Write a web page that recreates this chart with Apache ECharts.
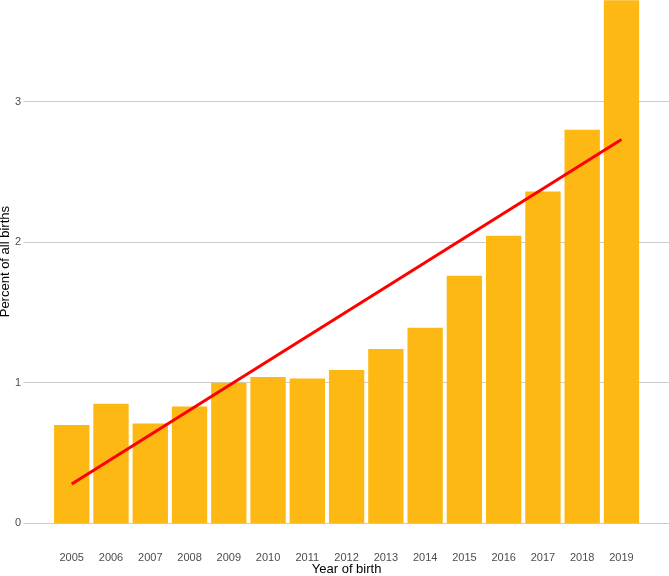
<!DOCTYPE html>
<html>
<head>
<meta charset="utf-8">
<script src="https://cdn.jsdelivr.net/npm/echarts@6/dist/echarts.min.js"></script>
<style>
html,body{margin:0;padding:0;background:#fff;}
#chart{width:669px;height:576px;}
</style>
</head>
<body>
<div id="chart"></div>
<script>
var years = ['2005','2006','2007','2008','2009','2010','2011','2012','2013','2014','2015','2016','2017','2018','2019'];
var percents = [0.70,0.85,0.71,0.83,1.00,1.04,1.03,1.09,1.24,1.39,1.76,2.045,2.36,2.80,3.72];
var trendYears = ['2005','2019'];
var trendValues = [0.28,2.73];
var yTicks = [0,1,2,3];

var yMax = 3.722;
var unitPx = 523.3 / yMax;
var font = 'Liberation Sans, Arial, sans-serif';
var chart = echarts.init(document.getElementById('chart'));
chart.setOption({
  animation: false,
  backgroundColor: '#ffffff',
  grid: [
    {left: 27, right: 0, top: 523.3 - 3 * unitPx, bottom: 52.7, containLabel: false, outerBoundsMode: 'none'},
    {left: 52.1, right: 27.9, top: 0, bottom: 52.7, containLabel: false, outerBoundsMode: 'none'}
  ],
  xAxis: [
    {gridIndex: 0, type: 'value', min: 0, max: 1, show: false},
    {gridIndex: 1, type: 'category', data: years,
     axisLine: {show: false}, axisTick: {show: false},
     axisLabel: {color: '#4d4d4d', fontSize: 11, fontFamily: font, margin: 29},
     name: 'Year of birth', nameLocation: 'middle', nameGap: 39.5, nameMoveOverlap: false,
     nameTextStyle: {color: '#000', fontSize: 13, fontFamily: font}}
  ],
  yAxis: [
    {gridIndex: 0, type: 'value', min: 0, max: yTicks[yTicks.length - 1], interval: 1,
     axisLine: {show: false},
     axisTick: {show: true, length: 3.5, lineStyle: {color: '#cccccc'}},
     axisLabel: {color: '#4d4d4d', fontSize: 11, fontFamily: font, margin: 6},
     splitLine: {show: true, lineStyle: {color: '#cccccc', width: 1}}},
    {gridIndex: 1, type: 'value', min: 0, max: yMax,
     axisLine: {show: false}, axisTick: {show: false}, axisLabel: {show: false},
     splitLine: {show: false},
     name: 'Percent of all births', nameLocation: 'middle', nameGap: 40.6, nameRotate: 90,
     nameMoveOverlap: false,
     nameTextStyle: {color: '#000', fontSize: 13, fontFamily: font}}
  ],
  series: [
    {type: 'bar', xAxisIndex: 1, yAxisIndex: 1, data: percents, barWidth: '90%',
     itemStyle: {color: '#FDB813'}, z: 2},
    {type: 'line', xAxisIndex: 1, yAxisIndex: 1,
     data: trendYears.map(function(y,i){ return [y, trendValues[i]]; }),
     symbol: 'none', lineStyle: {color: '#ff0000', width: 3}, z: 3}
  ]
});
</script>
</body>
</html>
